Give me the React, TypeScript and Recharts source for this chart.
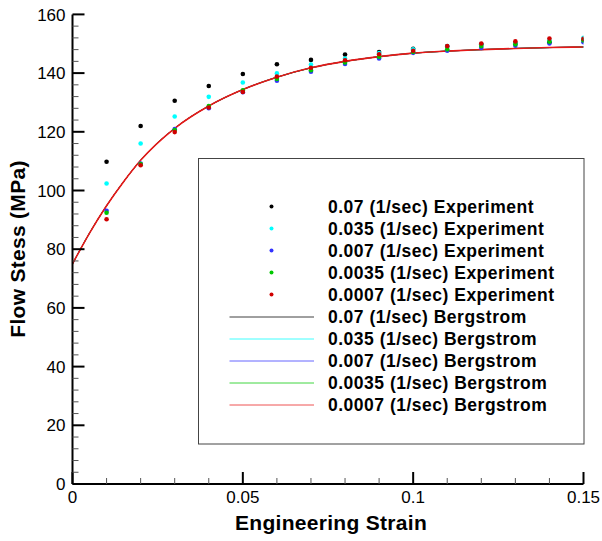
import { ComposedChart, Line, Scatter, XAxis, YAxis } from 'recharts'

const FONT = '"Liberation Sans", Arial, Helvetica, sans-serif'

// strain rates (1/sec) and their colours
const rates = ['0.07', '0.035', '0.007', '0.0035', '0.0007']
const rateColors = ['#000000', '#00ffff', '#3333ff', '#00c800', '#d00000']
const fitColors = ['#000000', '#00ffff', '#3333ff', '#00c800', '#e81818']

// experiment strains
const expStrain = [0.01, 0.02, 0.03, 0.04, 0.05, 0.06, 0.07, 0.08, 0.09, 0.1, 0.11, 0.12, 0.13, 0.14, 0.15]

const exp007 = [109.8, 122.0, 130.6, 135.6, 139.7, 143.0, 144.5, 146.3, 147.2, 148.3, 149.1, 149.8, 150.2, 150.5, 151.3]
const exp0035 = [102.4, 116.0, 125.2, 131.9, 136.8, 139.9, 142.9, 145.0, 146.8, 148.1, 149.2, 149.6, 150.1, 151.2, 152.0]
const exp0007a = [93.1, 109.2, 120.9, 128.0, 133.5, 137.4, 140.5, 143.1, 145.0, 146.9, 147.6, 148.6, 149.3, 150.1, 150.5]
const exp00035 = [92.4, 109.0, 120.6, 128.8, 134.1, 138.0, 141.0, 143.6, 145.6, 147.2, 148.1, 149.2, 149.8, 150.7, 151.1]
const exp00007 = [90.2, 108.6, 119.9, 128.3, 133.6, 138.8, 141.8, 144.4, 146.4, 147.6, 149.2, 150.1, 150.8, 151.8, 151.7]
const experiments = [exp007, exp0035, exp0007a, exp00035, exp00007]

// Bergstrom fits - the five curves sit on top of each other in the picture
const fitStrain = [0, 0.005, 0.01, 0.015, 0.02, 0.03, 0.04, 0.05, 0.06, 0.07, 0.08, 0.09, 0.1, 0.11, 0.12, 0.13, 0.14, 0.15]
const fit007 = [75, 85.5, 94.8, 103.0, 110.3, 121.2, 128.8, 134.4, 138.6, 141.8, 144.0, 145.6, 146.8, 147.5, 148.0, 148.4, 148.7, 148.9]
const fit0035 = [75, 85.5, 94.8, 103.0, 110.3, 121.2, 128.8, 134.4, 138.6, 141.8, 144.0, 145.6, 146.8, 147.5, 148.0, 148.4, 148.7, 148.9]
const fit0007 = [75, 85.5, 94.8, 103.0, 110.3, 121.2, 128.8, 134.4, 138.6, 141.8, 144.0, 145.6, 146.8, 147.5, 148.0, 148.4, 148.7, 148.9]
const fit00035 = [75, 85.5, 94.8, 103.0, 110.3, 121.2, 128.8, 134.4, 138.6, 141.8, 144.0, 145.6, 146.8, 147.5, 148.0, 148.4, 148.7, 148.9]
const fit00007 = [75, 85.5, 94.8, 103.0, 110.3, 121.2, 128.8, 134.4, 138.6, 141.8, 144.0, 145.6, 146.8, 147.5, 148.0, 148.4, 148.7, 148.9]
const fits = [fit007, fit0035, fit0007, fit00035, fit00007]

// axis ticks
const xTicks = [0, 0.01, 0.02, 0.03, 0.04, 0.05, 0.06, 0.07, 0.08, 0.09, 0.1, 0.11, 0.12, 0.13, 0.14, 0.15]
const xLabels = ['0', '0.05', '0.1', '0.15']
const yTicks = [
  0, 4, 8, 12, 16, 20, 24, 28, 32, 36, 40, 44, 48, 52, 56, 60, 64, 68, 72, 76, 80,
  84, 88, 92, 96, 100, 104, 108, 112, 116, 120, 124, 128, 132, 136, 140, 144, 148, 152, 156, 160,
]
const yLabels = ['0', '20', '40', '60', '80', '100', '120', '140', '160']

const toPoints = (xs: number[], ys: number[]) => xs.map((x, i) => ({ x, y: ys[i] }))

function XTick(props: any) {
  const { x, y, payload } = props
  const label = xLabels.find((l) => Math.abs(Number(l) - payload.value) < 1e-9)
  const major = label !== undefined
  return (
    <g>
      <line x1={x} x2={x} y1={y} y2={y - (major ? 12 : 6)} stroke={major ? '#000' : '#555'} strokeWidth={major ? 2 : 1} />
      {major && (
        <text x={x} y={y + 18.5} textAnchor="middle" fontFamily={FONT} fontSize={17} fill="#000">
          {label}
        </text>
      )}
    </g>
  )
}

function YTick(props: any) {
  const { x, y, payload } = props
  const label = yLabels.find((l) => Number(l) === payload.value)
  const major = label !== undefined
  return (
    <g>
      <line x1={x} x2={x + (major ? 12 : 6)} y1={y} y2={y} stroke={major ? '#000' : '#555'} strokeWidth={major ? 2 : 1} />
      {major && (
        <text x={x - 7} y={y} dy="0.36em" textAnchor="end" fontFamily={FONT} fontSize={17} fill="#000">
          {label}
        </text>
      )}
    </g>
  )
}

function LegendBox() {
  const rowY = (i: number) => 206.5 + i * 22
  return (
    <g fontFamily={FONT} fontWeight="bold" fontSize={17.5} letterSpacing={0.5}>
      <rect x={198.5} y={158.5} width={385.5} height={285.5} fill="none" stroke="#444" strokeWidth={1} />
      {rates.map((r, i) => (
        <g key={'e' + r}>
          <circle cx={271.5} cy={rowY(i)} r={2} fill={rateColors[i]} />
          <text x={328} y={rowY(i)} dominantBaseline="central" fill="#000">
            {r} (1/sec) Experiment
          </text>
        </g>
      ))}
      {rates.map((r, i) => (
        <g key={'b' + r}>
          <line
            x1={229.5}
            x2={314}
            y1={rowY(i + 5) + 0.5}
            y2={rowY(i + 5) + 0.5}
            stroke={fitColors[i]}
            strokeOpacity={0.75}
            strokeWidth={1}
          />
          <text x={328} y={rowY(i + 5)} dominantBaseline="central" fill="#000">
            {r} (1/sec) Bergstrom
          </text>
        </g>
      ))}
    </g>
  )
}

export default function App() {
  return (
    <div style={{ position: 'absolute', left: 0, top: 0, width: 602, height: 541, background: '#fff' }}>
      <ComposedChart width={602} height={541} margin={{ top: 14.4, right: 18.5, bottom: 27, left: 0 }}>
        <XAxis
          dataKey="x"
          type="number"
          domain={[0, 0.15]}
          ticks={xTicks}
          interval={0}
          height={30}
          tickSize={0}
          tickMargin={0}
          tickLine={false}
          tick={<XTick />}
          axisLine={{ stroke: '#000', strokeWidth: 2 }}
          allowDataOverflow
        />
        <YAxis
          dataKey="y"
          type="number"
          domain={[0, 160]}
          ticks={yTicks}
          interval={0}
          width={72.5}
          tickSize={0}
          tickMargin={0}
          tickLine={false}
          tick={<YTick />}
          axisLine={{ stroke: '#000', strokeWidth: 2 }}
          allowDataOverflow
        />
        {fits.map((f, i) => (
          <Line
            key={'fit' + rates[i]}
            data={toPoints(fitStrain, f)}
            dataKey="y"
            type="monotone"
            stroke={fitColors[i]}
            strokeWidth={i === fits.length - 1 ? 1.6 : 1}
            dot={false}
            activeDot={false}
            isAnimationActive={false}
          />
        ))}
        {experiments.map((e, i) => (
          <Scatter
            key={'exp' + rates[i]}
            data={toPoints(expStrain, e)}
            dataKey="y"
            fill={rateColors[i]}
            shape={(p: any) => <circle cx={p.cx} cy={p.cy} r={2.3} fill={rateColors[i]} />}
            isAnimationActive={false}
          />
        ))}
      </ComposedChart>
      <svg width={602} height={541} style={{ position: 'absolute', left: 0, top: 0, pointerEvents: 'none' }}>
        <LegendBox />
        <text x={331} y={530} textAnchor="middle" fontFamily={FONT} fontWeight="bold" fontSize={21} letterSpacing={0.3}>
          Engineering Strain
        </text>
        <text
          transform="translate(25,249) rotate(-90)"
          textAnchor="middle"
          fontFamily={FONT}
          fontWeight="bold"
          fontSize={21}
          letterSpacing={0.3}
        >
          Flow Stess (MPa)
        </text>
      </svg>
    </div>
  )
}
